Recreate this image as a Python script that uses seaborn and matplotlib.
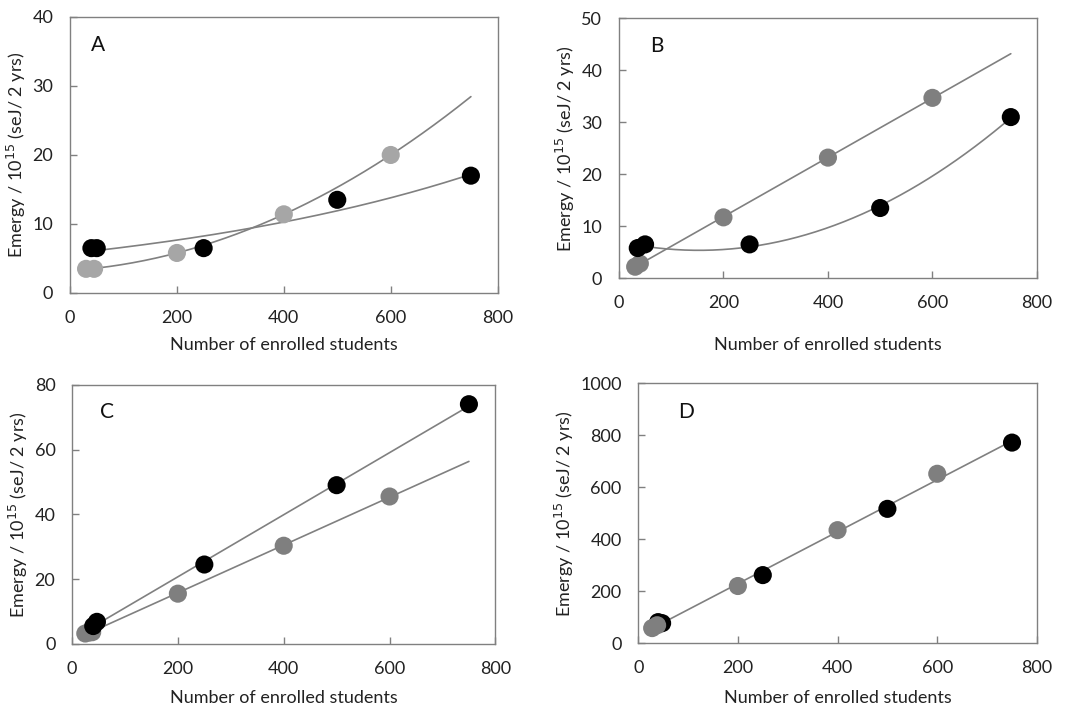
import numpy as np
import pandas as pd
import seaborn as sns
from matplotlib import pyplot as plt

# panel A
a_black_x = [40, 50, 250, 500, 750]
a_black_y = [6.5, 6.5, 6.5, 13.5, 17.0]
a_gray_x = [30, 45, 200, 400, 600]
a_gray_y = [3.5, 3.5, 5.8, 11.4, 20.0]

# panel B
b_black_x = [36, 50, 250, 500, 750]
b_black_y = [5.8, 6.5, 6.5, 13.5, 31.0]
b_gray_x = [31, 40, 200, 400, 600]
b_gray_y = [2.2, 2.8, 11.7, 23.2, 34.7]

# panel C
c_black_x = [40, 47, 250, 500, 750]
c_black_y = [5.5, 6.8, 24.5, 49.0, 74.0]
c_gray_x = [25, 32, 38, 200, 400, 600]
c_gray_y = [3.2, 3.5, 3.6, 15.5, 30.3, 45.5]

# panel D
d_black_x = [40, 48, 250, 500, 750]
d_black_y = [81, 77, 262, 517, 772]
d_gray_x = [28, 38, 200, 400, 600]
d_gray_y = [58, 69, 220, 435, 652]

XLABEL = "Number of enrolled students"
YLABEL = "Emergy / 10$^{15}$ (seJ/ 2 yrs)"
LINE = "#808080"


def fit_curve(x, y, kind, x_end=750):
    """Excel-style trendline evaluated from min(x) up to x_end."""
    x = np.asarray(x, float)
    y = np.asarray(y, float)
    xs = np.linspace(x.min(), x_end, 200)
    if kind == "exp":
        b, ln_a = np.polyfit(x, np.log(y), 1)
        ys = np.exp(ln_a) * np.exp(b * xs)
    elif kind == "poly2":
        ys = np.polyval(np.polyfit(x, y, 2), xs)
    else:
        ys = np.polyval(np.polyfit(x, y, 1), xs)
    return pd.DataFrame({"x": xs, "y": ys})


def draw_panel(ax, series, fits, letter, letter_pos, ymax, ystep, labelpad):
    for xs, ys, kind in fits:
        fit = fit_curve(xs, ys, kind)
        sns.lineplot(data=fit, x="x", y="y", ax=ax, color=LINE, lw=1.2)
    for xs, ys, col in series:
        df = pd.DataFrame({"x": xs, "y": ys})
        sns.scatterplot(data=df, x="x", y="y", ax=ax, color=col, s=170,
                        edgecolor="none", zorder=3)
    ax.set_xlim(0, 800)
    ax.set_ylim(0, ymax)
    ax.set_xticks(range(0, 801, 200))
    ax.set_yticks(np.arange(0, ymax + 1, ystep))
    ax.set_xlabel(XLABEL, fontsize=13, labelpad=labelpad, color="#222222")
    ax.set_ylabel(YLABEL, fontsize=13, labelpad=3, color="#222222")
    ax.tick_params(axis="both", labelsize=13, length=5, width=1.0,
                   color="#808080", direction="in", pad=12,
                   bottom=True, left=True, labelcolor="#222222")
    for sp in ax.spines.values():
        sp.set_color("#808080")
        sp.set_linewidth(1.0)
    ax.text(letter_pos[0], letter_pos[1], letter, transform=ax.transAxes,
            fontsize=15, ha="left", va="center", color="#111111")


sns.set_theme(style="white")
plt.rcParams["font.family"] = ["Lato", "DejaVu Sans"]

fig = plt.figure(figsize=(10.69, 7.06), dpi=100)
ax_a = fig.add_axes([0.0655, 0.585, 0.400, 0.391])
ax_b = fig.add_axes([0.579, 0.606, 0.391, 0.368])
ax_c = fig.add_axes([0.0674, 0.088, 0.396, 0.367])
ax_d = fig.add_axes([0.597, 0.089, 0.373, 0.368])

light = "#a6a6a6"
mid = "#7f7f7f"

draw_panel(ax_a,
           [(a_gray_x, a_gray_y, light), (a_black_x, a_black_y, "black")],
           [(a_gray_x, a_gray_y, "poly2"), (a_black_x, a_black_y, "exp")],
           "A", (0.05, 0.90), 40, 10, 8)
draw_panel(ax_b,
           [(b_gray_x, b_gray_y, mid), (b_black_x, b_black_y, "black")],
           [(b_gray_x, b_gray_y, "lin"), (b_black_x, b_black_y, "poly2")],
           "B", (0.074, 0.895), 50, 10, 19)
draw_panel(ax_c,
           [(c_gray_x, c_gray_y, mid), (c_black_x, c_black_y, "black")],
           [(c_gray_x, c_gray_y, "lin"), (c_black_x, c_black_y, "lin")],
           "C", (0.066, 0.895), 80, 20, 10)
draw_panel(ax_d,
           [(d_black_x, d_black_y, "black"), (d_gray_x, d_gray_y, mid)],
           [(d_gray_x + d_black_x, d_gray_y + d_black_y, "lin")],
           "D", (0.10, 0.888), 1000, 200, 10)

fig.savefig("out.png", dpi=100)
